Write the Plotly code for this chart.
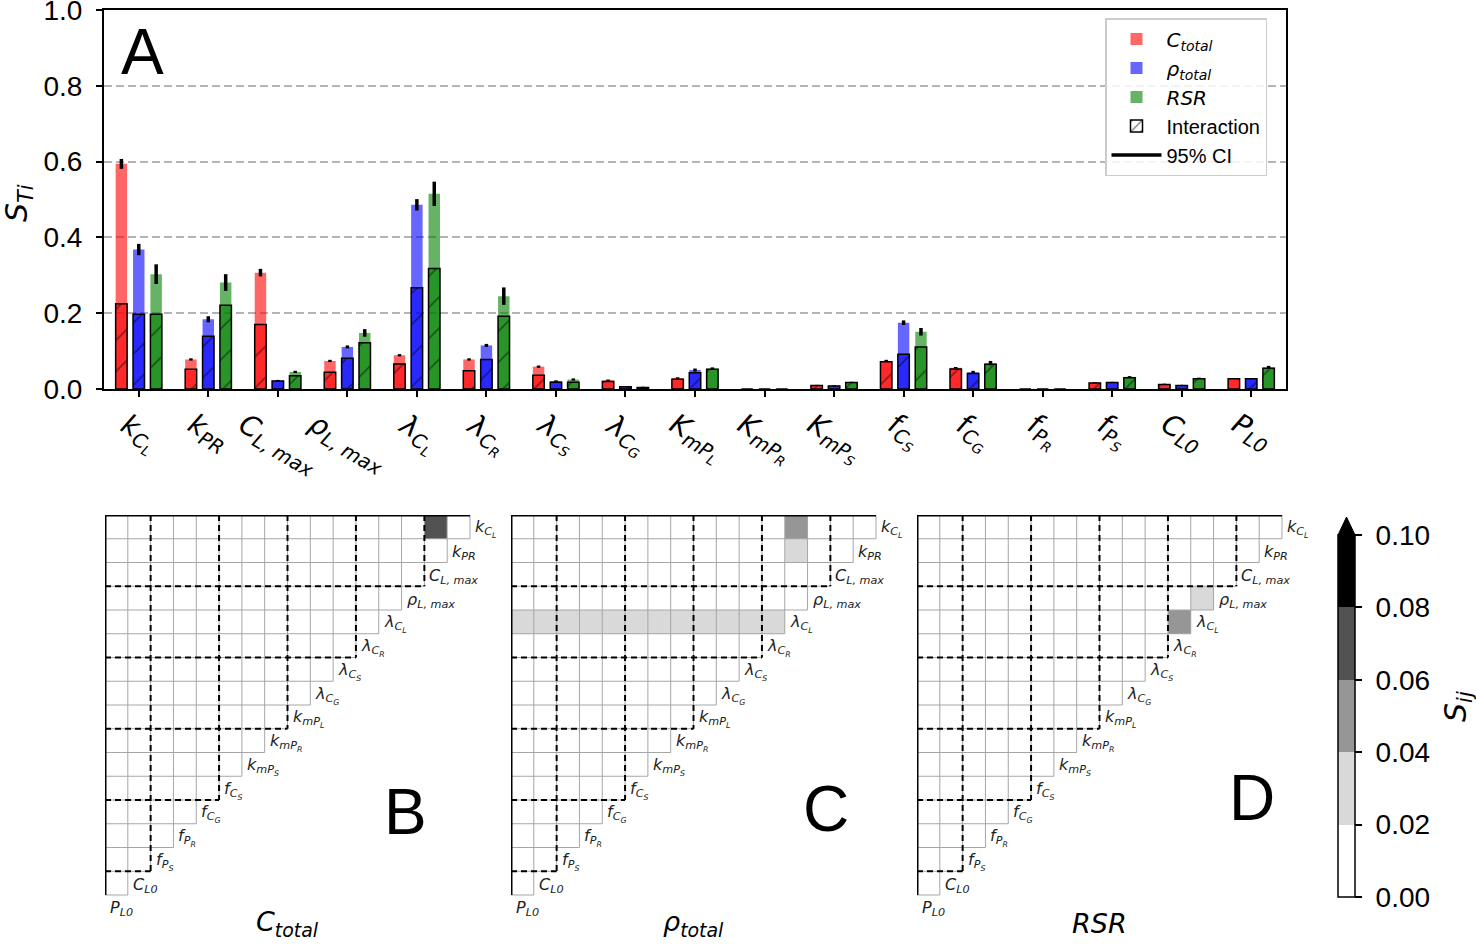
import plotly.graph_objects as go

W, H = 1476, 947
MATH = "DejaVu Sans"
SANS = "Liberation Sans"

# parameter names (bar tick labels and triangle labels)
bar_labels = ['<i>k<sub>C<sub>L</sub></sub></i>', '<i>k<sub>PR</sub></i>', '<i>C<sub>L, max</sub></i>',
              '<i>ρ<sub>L, max</sub></i>', '<i>λ<sub>C<sub>L</sub></sub></i>', '<i>λ<sub>C<sub>R</sub></sub></i>',
              '<i>λ<sub>C<sub>S</sub></sub></i>', '<i>λ<sub>C<sub>G</sub></sub></i>', '<i>K<sub>mP<sub>L</sub></sub></i>',
              '<i>K<sub>mP<sub>R</sub></sub></i>', '<i>K<sub>mP<sub>S</sub></sub></i>', '<i>f<sub>C<sub>S</sub></sub></i>',
              '<i>f<sub>C<sub>G</sub></sub></i>', '<i>f<sub>P<sub>R</sub></sub></i>', '<i>f<sub>P<sub>S</sub></sub></i>',
              '<i>C<sub>L0</sub></i>', '<i>P<sub>L0</sub></i>']
cell_labels = ['<i>k<sub>C<sub>L</sub></sub></i>', '<i>k<sub>PR</sub></i>', '<i>C<sub>L, max</sub></i>',
               '<i>ρ<sub>L, max</sub></i>', '<i>λ<sub>C<sub>L</sub></sub></i>', '<i>λ<sub>C<sub>R</sub></sub></i>',
               '<i>λ<sub>C<sub>S</sub></sub></i>', '<i>λ<sub>C<sub>G</sub></sub></i>', '<i>k<sub>mP<sub>L</sub></sub></i>',
               '<i>k<sub>mP<sub>R</sub></sub></i>', '<i>k<sub>mP<sub>S</sub></sub></i>', '<i>f<sub>C<sub>S</sub></sub></i>',
               '<i>f<sub>C<sub>G</sub></sub></i>', '<i>f<sub>P<sub>R</sub></sub></i>', '<i>f<sub>P<sub>S</sub></sub></i>',
               '<i>C<sub>L0</sub></i>', '<i>P<sub>L0</sub></i>']

# total-order indices, interaction part, 95% CI half width
c_total = [0.594, 0.078, 0.307, 0.074, 0.089, 0.078, 0.059, 0.023, 0.029, 0.0, 0.010, 0.074, 0.056, 0.0, 0.017, 0.013, 0.028]
c_inter = [0.225, 0.052, 0.170, 0.044, 0.066, 0.048, 0.036, 0.020, 0.026, 0.0, 0.009, 0.072, 0.053, 0.0, 0.016, 0.012, 0.027]
c_ci = [0.013, 0.003, 0.010, 0.003, 0.003, 0.003, 0.003, 0.002, 0.002, 0.0, 0.001, 0.003, 0.002, 0.0, 0.001, 0.001, 0.001]

rho_total = [0.368, 0.184, 0.022, 0.111, 0.486, 0.115, 0.021, 0.007, 0.050, 0.0, 0.009, 0.175, 0.044, 0.0, 0.018, 0.010, 0.028]
rho_inter = [0.197, 0.139, 0.021, 0.081, 0.267, 0.078, 0.018, 0.006, 0.043, 0.0, 0.008, 0.092, 0.041, 0.0, 0.017, 0.009, 0.027]
rho_ci = [0.015, 0.008, 0.002, 0.004, 0.015, 0.004, 0.002, 0.001, 0.004, 0.0, 0.001, 0.006, 0.004, 0.0, 0.001, 0.001, 0.001]

rsr_total = [0.303, 0.281, 0.045, 0.148, 0.515, 0.245, 0.025, 0.005, 0.054, 0.0, 0.018, 0.151, 0.068, 0.0, 0.032, 0.028, 0.057]
rsr_inter = [0.197, 0.221, 0.035, 0.122, 0.318, 0.192, 0.018, 0.004, 0.052, 0.0, 0.017, 0.111, 0.065, 0.0, 0.030, 0.027, 0.055]
rsr_ci = [0.026, 0.022, 0.003, 0.010, 0.032, 0.023, 0.003, 0.001, 0.003, 0.0, 0.001, 0.010, 0.006, 0.0, 0.002, 0.002, 0.004]

# second order indices: non-zero cells (row, column, value)
sij_c = [(0, 14, 0.07)]
sij_rho = [(0, 12, 0.05), (1, 12, 0.03),
           (4, 0, 0.03), (4, 1, 0.03), (4, 2, 0.03), (4, 3, 0.03), (4, 4, 0.03), (4, 5, 0.03),
           (4, 6, 0.03), (4, 7, 0.03), (4, 8, 0.03), (4, 9, 0.03), (4, 10, 0.03), (4, 11, 0.03)]
sij_rsr = [(3, 12, 0.03), (4, 11, 0.05)]

group_bounds = [2, 5, 8, 11, 14]


def px_x(p):
    return p / W


def px_y(p):
    return 1 - p / H


def math(s):
    return f'<span style="font-family:{MATH}">{s}</span>'


n = len(bar_labels)
idx = list(range(n))
fig = go.Figure()

series = [(c_total, c_inter, c_ci, 'rgba(255,0,0,0.6)', math('<i>C<sub>total</sub></i>'), -0.25),
          (rho_total, rho_inter, rho_ci, 'rgba(0,0,255,0.6)', math('<i>ρ<sub>total</sub></i>'), 0.0),
          (rsr_total, rsr_inter, rsr_ci, 'rgba(0,128,0,0.6)', math('<i>RSR</i>'), 0.25)]

# total bars with CI
for tot, inter, ci, col, name, off in series:
    fig.add_trace(go.Bar(x=[i + off for i in idx], y=tot, width=0.165, marker=dict(color=col, line_width=0),
                         error_y=dict(type='data', array=ci, color='black', thickness=3.5, width=0),
                         name=name, xaxis='x', yaxis='y'))
# interaction part, hatched
for tot, inter, ci, col, name, off in series:
    fig.add_trace(go.Bar(x=[i + off for i in idx], y=inter, width=0.165,
                         marker=dict(color=col, line=dict(color='black', width=1.5),
                                     pattern=dict(shape='/', fgcolor='black', size=22, solidity=0.07)),
                         showlegend=False, xaxis='x', yaxis='y'))

# legend only entries
fig.add_trace(go.Bar(x=[None], y=[None], name='Interaction',
                     marker=dict(color='white', line=dict(color='black', width=1.5),
                                 pattern=dict(shape='/', fgcolor='black', size=9, solidity=0.2))))
fig.add_trace(go.Scatter(x=[None], y=[None], mode='lines', line=dict(color='black', width=3.5), name='95% CI'))

# triangle heat maps
N = 16
colorscale = [[0, 'white'], [0.2, 'white'], [0.2, '#d9d9d9'], [0.4, '#d9d9d9'], [0.4, '#969696'],
              [0.6, '#969696'], [0.6, '#525252'], [0.8, '#525252'], [0.8, 'black'], [1, 'black']]

grid_x, grid_y = [], []
for r in range(N + 1):
    grid_x += [-0.5, min(N - 0.5, N + 0.5 - r), None]
    grid_y += [r - 0.5, r - 0.5, None]
for c in range(N + 1):
    grid_x += [c - 0.5, c - 0.5, None]
    grid_y += [-0.5, min(N - 0.5, N + 0.5 - c), None]

dash_x, dash_y = [], []
for b in group_bounds:
    dash_x += [b - 0.5, b - 0.5, None]
    dash_y += [-0.5, N + 0.5 - b, None]
for b in [3, 6, 9, 12, 15]:
    dash_x += [-0.5, N + 0.5 - b, None]
    dash_y += [b - 0.5, b - 0.5, None]

panels = [(sij_c, 105, 'B', (405, 812), '<i>C<sub>total</sub></i>'),
          (sij_rho, 511, 'C', (826, 809), '<i>ρ<sub>total</sub></i>'),
          (sij_rsr, 917, 'D', (1252, 798), '<i>RSR</i>')]

cb_ticks = [0, 0.02, 0.04, 0.06, 0.08, 0.10]

cw, ch = 365 / N, 380 / N
annotations = []
shapes = []
for k, (cells, left, letter, lpos, title) in enumerate(panels):
    ax = str(k + 2)
    z = [[0.0 if c < N - r else None for c in range(N)] for r in range(N)]
    for r, c, v in cells:
        z[r][c] = v
    fig.add_trace(go.Heatmap(z=z, x=list(range(N)), y=list(range(N)), zmin=0, zmax=0.1, colorscale=colorscale,
                             showscale=(k == 0), xaxis='x' + ax, yaxis='y' + ax, hoverongaps=False,
                             colorbar=dict(x=px_x(1338), xanchor='left', thickness=17, len=362 / H,
                                           y=px_y(716), yanchor='middle', xpad=0, ypad=0,
                                           tickvals=cb_ticks,
                                           ticktext=['\u00a0' + f'{t:.2f}' for t in cb_ticks],
                                           ticks='outside', ticklen=7, tickwidth=2, tickcolor='black',
                                           outlinewidth=1.5, outlinecolor='black',
                                           tickfont=dict(size=28, color='black', family=SANS))))
    fig.add_trace(go.Scatter(x=grid_x, y=grid_y, mode='lines', line=dict(color='#a6a6a6', width=1),
                             showlegend=False, hoverinfo='skip', xaxis='x' + ax, yaxis='y' + ax))
    fig.add_trace(go.Scatter(x=dash_x, y=dash_y, mode='lines', line=dict(color='black', width=2, dash='6px,4px'),
                             showlegend=False, hoverinfo='skip', xaxis='x' + ax, yaxis='y' + ax))
    fig.add_trace(go.Scatter(x=[N - 0.5, -0.5, -0.5], y=[-0.5, -0.5, N - 0.5], mode='lines',
                             line=dict(color='black', width=3), showlegend=False, hoverinfo='skip',
                             xaxis='x' + ax, yaxis='y' + ax))
    fig.update_layout(**{
        'xaxis' + ax: dict(domain=[px_x(left), px_x(left + (N + 1) * cw)], range=[-0.5, N + 0.5],
                           visible=False, automargin=False),
        'yaxis' + ax: dict(domain=[px_y(515 + (N + 1) * ch), px_y(515)], range=[N + 0.5, -0.5],
                           visible=False, automargin=False),
    })
    for i, lab in enumerate(cell_labels):
        annotations.append(dict(x=N - 0.5 - i, y=i, xref='x' + ax, yref='y' + ax, text=lab, showarrow=False,
                                xanchor='left', yanchor='middle', xshift=3, yshift=-2,
                                font=dict(size=16, color='#222222', family=MATH)))
    annotations.append(dict(x=px_x(lpos[0]), y=px_y(lpos[1]), xref='paper', yref='paper', text=letter,
                            showarrow=False, xanchor='center', yanchor='middle',
                            font=dict(size=64, color='black', family=SANS)))
    annotations.append(dict(x=px_x(left + 182), y=px_y(923), xref='paper', yref='paper', text=title,
                            showarrow=False, xanchor='center', yanchor='middle',
                            font=dict(size=27, color='black', family=MATH)))

# bar x tick labels, rotated and centred
for i, lab in enumerate(bar_labels):
    annotations.append(dict(x=i, y=px_y(404), xref='x', yref='paper', text=lab, showarrow=False, textangle=30,
                            xanchor='center', yanchor='top', font=dict(size=28, color='black', family=MATH)))

annotations.append(dict(x=px_x(142), y=px_y(52), xref='paper', yref='paper', text='A', showarrow=False,
                        xanchor='center', yanchor='middle', font=dict(size=64, color='black', family=SANS)))
annotations.append(dict(x=px_x(18), y=px_y(203), xref='paper', yref='paper', text='<i>S<sub>Ti</sub></i>',
                        showarrow=False, textangle=-90, xanchor='center', yanchor='middle',
                        font=dict(size=30, color='black', family=MATH)))
annotations.append(dict(x=px_x(1457), y=px_y(707), xref='paper', yref='paper', text='<i>S<sub>ij</sub></i>',
                        showarrow=False, textangle=-90, xanchor='center', yanchor='middle',
                        font=dict(size=30, color='black', family=MATH)))

# colorbar extension triangle
x0, x1 = px_x(1338), px_x(1355)
shapes.append(dict(type='path', xref='paper', yref='paper',
                   path=f'M {x0} {px_y(535)} L {x1} {px_y(535)} L {(x0 + x1) / 2} {px_y(517)} Z',
                   fillcolor='black', line=dict(color='black', width=1)))

fig.update_layout(
    width=W, height=H, margin=dict(l=0, r=0, t=0, b=0, autoexpand=False), autosize=False,
    paper_bgcolor='white', plot_bgcolor='white', barmode='overlay',
    font=dict(family=SANS, color='black'),
    xaxis=dict(domain=[px_x(104), px_x(1286)], range=[-0.5, n - 0.5], tickvals=idx, showticklabels=False,
               ticks='outside', ticklen=6, tickwidth=2, tickcolor='black', showline=True, mirror=True,
               linecolor='black', linewidth=2, showgrid=False, zeroline=False, automargin=False),
    yaxis=dict(domain=[px_y(389), px_y(10)], range=[0, 1], tickvals=[0, 0.2, 0.4, 0.6, 0.8, 1.0],
               ticktext=['0.0', '0.2', '0.4', '0.6', '0.8', '1.0'], ticks='outside',
               ticklen=6, tickwidth=2, tickcolor='black', showline=True, mirror=True, linecolor='black',
               linewidth=2, showgrid=True, gridcolor='#b3b3b3', gridwidth=1.5, griddash='8px,4px',
               zeroline=False, tickfont=dict(size=28, family=SANS), automargin=False,
               ticklabeloverflow='allow', ticklabelstandoff=8),
    legend=dict(x=px_x(1105), y=px_y(18), xanchor='left', yanchor='top', bordercolor='#cccccc', borderwidth=1.5,
                bgcolor='rgba(255,255,255,0.85)', font=dict(size=20, family=SANS), traceorder='normal',
                itemwidth=50),
    annotations=annotations, shapes=shapes,
)

fig.write_html("out.html", config={'displayModeBar': False},
               post_script="document.body.style.margin='0';")
